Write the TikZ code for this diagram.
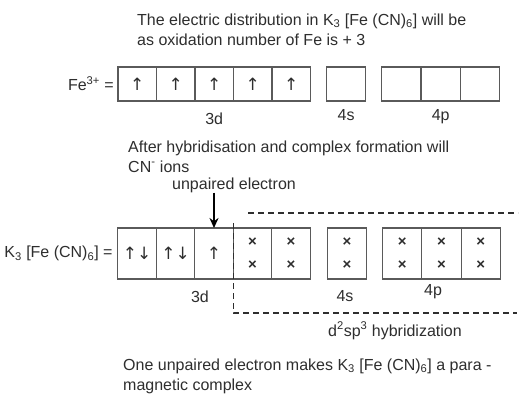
\documentclass[tikz,border=0pt]{standalone}
\usepackage{fontspec}
\setmainfont{Liberation Sans}
\newfontfamily\spinfont{DejaVu Sans}
\usetikzlibrary{positioning,arrows.meta}

\definecolor{inkgray}{HTML}{2E2E2E}
\definecolor{boxgray}{HTML}{5A5A5A}

\begin{document}
\begin{tikzpicture}[
  x=1pt, y=-1pt,
  every node/.style={font=\fontsize{16}{20}\selectfont, text=inkgray},
  orb/.style={rectangle, draw=boxgray, line width=1.2pt, inner sep=0pt,
              outer sep=0pt, minimum width=38.5pt},
  orbA/.style={orb, minimum height=34pt, font=\spinfont\fontsize{17}{17}\selectfont},
  orbB/.style={orb, minimum height=51pt, font=\spinfont\fontsize{17}{17}\selectfont},
  orbX/.style={orb, minimum height=51pt, align=center,
               font=\fontsize{15}{23}\selectfont\bfseries},
  wide/.style={minimum width=39.3pt},
  txt/.style={anchor=base west, inner sep=0pt, align=left},
  hyb/.style={draw=inkgray, line width=1.4pt, dash pattern=on 6pt off 4pt},
  arrow/.style={-{Stealth[length=10pt,width=9pt]}, line width=1.6pt, draw=black}
]
\useasboundingbox[fill=white] (0,0) rectangle (522,410);

% base anchor sits on the last line
\node[txt] (intro) at (137,45)
  {The electric distribution in K\textsubscript{3} [Fe (CN)\textsubscript{6}] will be\\
   as oxidation number of Fe is + 3};

% Fe3+ ground state
\node[orbA] (a1) at (137.2,84) {↑};
\node[orbA, right=0pt of a1] (a2) {↑};
\node[orbA, right=0pt of a2] (a3) {↑};
\node[orbA, right=0pt of a3] (a4) {↑};
\node[orbA, right=0pt of a4] (a5) {↑};
\node[orbA, wide, right=16pt of a5] (a6) {};
\node[orbA, wide, right=16pt of a6] (a7) {};
\node[orbA, wide, right=0pt of a7] (a8) {};
\node[orbA, wide, right=0pt of a8] (a9) {};

\node[anchor=east, inner sep=4pt] (fe) at (a1.west) {Fe\textsuperscript{3+} =};
\node[below=8pt of a3] (a3d) {3d};
\node[below=5pt of a6] (a4s) {4s};
\node[below=5pt of a8] (a4p) {4p};

\node[txt] (after) at (128,172)
  {After hybridisation and complex formation will\\
   CN\textsuperscript{-} ions};
\node[txt] (unp) at (172,189) {unpaired electron};

% complex
\node[orbB] (b1) at (137,253.5) {↑↓};
\node[orbB, right=0pt of b1] (b2) {↑↓};
\node[orbB, right=0pt of b2] (b3) {↑};
\node[orbX, right=0pt of b3] (b4) {×\\×};
\node[orbX, right=0pt of b4] (b5) {×\\×};
\node[orbX, wide, right=17pt of b5] (b6) {×\\×};
\node[orbX, wide, right=16pt of b6] (b7) {×\\×};
\node[orbX, wide, right=0pt of b7] (b8) {×\\×};
\node[orbX, wide, right=0pt of b8] (b9) {×\\×};

\node[anchor=east, inner sep=5pt] (kfe) at (b1.west)
  {K\textsubscript{3} [Fe (CN)\textsubscript{6}] =};
\node (b3d) at (200,297) {3d};
\node (b4s) at (345,296) {4s};
\node (b4p) at (433,292) {4p};

\draw[hyb] (248,213) -- (518,213);
\draw[hyb] ([yshift=5pt]b4.north west) -- ([yshift=-34pt]b4.south west) -- ++(284,0);
\node[txt] (hybname) at (328,336) {d\textsuperscript{2}sp\textsuperscript{3} hybridization};

\node[txt] (outro) at (123,390)
  {One unpaired electron makes K\textsubscript{3} [Fe (CN)\textsubscript{6}] a para -\\
   magnetic complex};

\draw[arrow] (unp.south -| b3.north) -- (b3.north);

\end{tikzpicture}
\end{document}
